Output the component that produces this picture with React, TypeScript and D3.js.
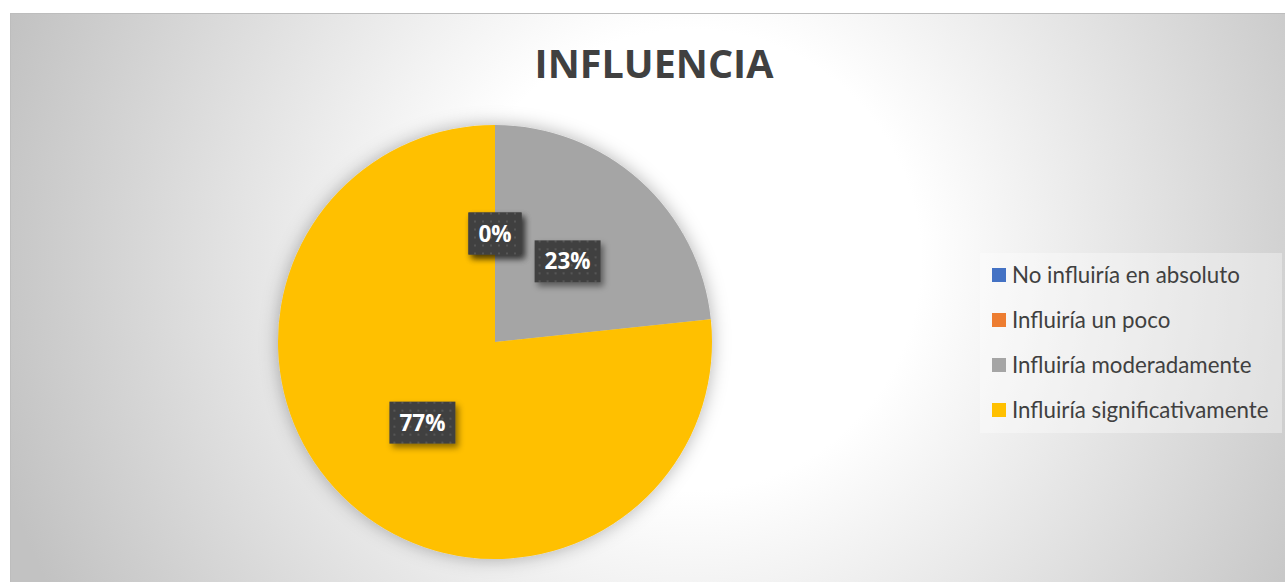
import React, { useEffect, useRef } from 'react';
import * as d3 from 'd3';

// Chart data
const title = 'INFLUENCIA';
const categories = [
  'No influiría en absoluto',
  'Influiría un poco',
  'Influiría moderadamente',
  'Influiría significativamente',
];
const counts = [0, 0, 7, 23];
const colors = ['#4472C4', '#ED7D31', '#A5A5A5', '#FFC000'];

const W = 1285;
const H = 582;

const App = () => {
  const svgRef = useRef<SVGSVGElement | null>(null);

  useEffect(() => {
    if (!svgRef.current) return;
    const svg = d3.select(svgRef.current);
    svg.selectAll('*').remove();

    const defs = svg.append('defs');

    // background radial gradient
    const grad = defs.append('radialGradient')
      .attr('id', 'bg')
      .attr('gradientUnits', 'userSpaceOnUse')
      .attr('cx', 690).attr('cy', 260).attr('r', 720);
    grad.append('stop').attr('offset', 0).attr('stop-color', '#ffffff');
    grad.append('stop').attr('offset', 0.32).attr('stop-color', '#ffffff');
    grad.append('stop').attr('offset', 1).attr('stop-color', '#c2c2c2');

    // pie glow
    const glow = defs.append('filter').attr('id', 'glow')
      .attr('x', '-20%').attr('y', '-20%').attr('width', '140%').attr('height', '140%');
    glow.append('feDropShadow')
      .attr('dx', 0).attr('dy', 0).attr('stdDeviation', 9)
      .attr('flood-color', '#000').attr('flood-opacity', 0.3);

    // label shadow
    const lshadow = defs.append('filter').attr('id', 'lshadow')
      .attr('x', '-30%').attr('y', '-30%').attr('width', '170%').attr('height', '170%');
    lshadow.append('feDropShadow')
      .attr('dx', 3).attr('dy', 4).attr('stdDeviation', 3)
      .attr('flood-color', '#000').attr('flood-opacity', 0.45);

    // dotted pattern for label boxes
    const pat = defs.append('pattern').attr('id', 'dots')
      .attr('patternUnits', 'userSpaceOnUse')
      .attr('width', 8).attr('height', 8);
    pat.append('rect').attr('width', 8).attr('height', 8).attr('fill', '#404040');
    pat.append('rect').attr('x', 3).attr('y', 3).attr('width', 2).attr('height', 2).attr('fill', '#575757');

    // chart area
    svg.append('rect')
      .attr('x', 10.5).attr('y', 13.5)
      .attr('width', W - 10).attr('height', H - 13)
      .attr('fill', 'url(#bg)')
      .attr('stroke', '#bdbdbd');

    // title
    svg.append('text')
      .attr('x', 654).attr('y', 78)
      .attr('text-anchor', 'middle')
      .attr('font-family', 'Open Sans, sans-serif')
      .attr('font-weight', 700)
      .attr('font-size', 39.5)
      .attr('fill', '#404040')
      .text(title);

    // pie
    const cx = 495, cy = 342, r = 217;
    const total = d3.sum(counts);
    const pie = d3.pie<number>().sort(null).value(d => d);
    const arcs = pie(counts);
    const arc = d3.arc<d3.PieArcDatum<number>>().innerRadius(0).outerRadius(r);

    const g = svg.append('g').attr('transform', `translate(${cx},${cy})`);
    g.append('g').attr('filter', 'url(#glow)')
      .selectAll('path')
      .data(arcs)
      .join('path')
      .attr('d', arc)
      .attr('fill', (d, i) => colors[i]);

    // data labels
    const fmt = d3.format('.0%');
    const labels = g.selectAll('g.lbl')
      .data(arcs)
      .join('g')
      .attr('class', 'lbl')
      .attr('transform', d => {
        const [x, y] = arc.centroid(d);
        return `translate(${x},${y})`;
      });

    labels.each(function (d) {
      const lg = d3.select(this);
      const t = lg.append('text')
        .attr('text-anchor', 'middle')
        .attr('dy', '0.36em')
        .attr('font-family', 'Open Sans, sans-serif')
        .attr('font-weight', 700)
        .attr('font-size', 22.5)
        .attr('fill', '#ffffff')
        .text(fmt(d.data / total));
      const w = (t.node() as SVGTextElement).getComputedTextLength() + 20;
      const h = 42;
      lg.insert('rect', 'text')
        .attr('x', -w / 2).attr('y', -h / 2)
        .attr('width', w).attr('height', h)
        .attr('fill', 'url(#dots)')
        .attr('filter', 'url(#lshadow)');
    });

    // legend
    svg.append('rect')
      .attr('x', 980).attr('y', 253)
      .attr('width', 302).attr('height', 180)
      .attr('fill', '#ffffff').attr('fill-opacity', 0.35);

    const ly = d3.scaleBand().domain(categories).range([252.5, 432.5]);
    const legend = svg.append('g')
      .selectAll('g')
      .data(categories)
      .join('g')
      .attr('transform', d => `translate(992,${(ly(d) as number) + ly.bandwidth() / 2})`);
    legend.append('rect')
      .attr('x', 0).attr('y', -7)
      .attr('width', 14).attr('height', 14)
      .attr('fill', (d, i) => colors[i]);
    legend.append('text')
      .attr('x', 20).attr('y', 7.5)
      .attr('font-family', 'Lato, sans-serif')
      .attr('font-size', 22.3)
      .attr('fill', '#404040')
      .text(d => d);
  }, []);

  return (
    <svg
      ref={svgRef}
      width={W}
      height={H}
      style={{ position: 'absolute', left: 0, top: 0, display: 'block' }}
    />
  );
};

export default App;
